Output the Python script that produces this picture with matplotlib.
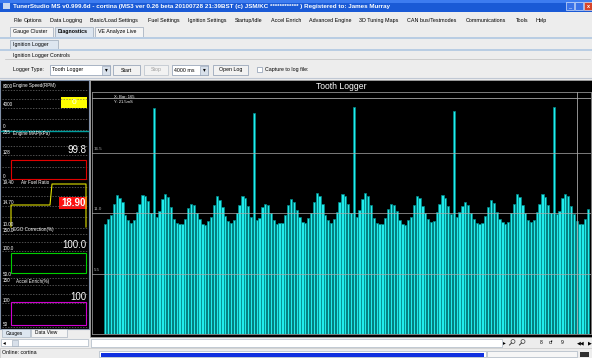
import numpy as np
import matplotlib.pyplot as plt
from matplotlib.patches import Rectangle, Circle

plt.rcParams['font.family'] = ['Liberation Sans', 'DejaVu Sans']

# tooth times in ms, one bar per tooth
tooth_ms = [10.0, 10.5, 10.85, 11.9, 12.7, 12.4, 12.0, 10.85, 10.4, 10.1,
            10.4, 11.1, 11.9, 12.7, 12.6, 12.1, 11.0, 20.6, 10.7, 11.2,
            12.3, 12.8, 12.5, 11.6, 10.5, 10.1, 10.0, 10.0, 10.5, 11.45,
            11.9, 11.75, 11.0, 10.5, 10.0, 9.9, 10.3, 10.7, 11.75, 12.55,
            12.25, 11.6, 10.8, 10.3, 10.1, 10.4, 11.0, 11.8, 12.6, 12.4,
            11.7, 10.7, 20.15, 10.4, 10.6, 11.6, 11.9, 11.75, 11.0, 10.4,
            10.0, 10.1, 10.1, 10.85, 11.75, 12.35, 12.05, 11.3, 10.7, 10.25,
            10.1, 10.6, 11.0, 12.05, 12.9, 12.55, 11.9, 10.85, 10.4, 10.1,
            10.5, 11.1, 12.05, 12.8, 12.6, 11.9, 11.0, 20.7, 10.7, 11.3,
            12.35, 12.9, 12.6, 11.8, 10.55, 10.1, 10.05, 10.05, 10.6, 11.4,
            11.9, 11.75, 11.2, 10.4, 10.05, 9.9, 10.4, 10.7, 11.8, 12.6,
            12.4, 11.7, 11.0, 10.5, 10.2, 10.3, 11.1, 11.9, 12.7, 12.4,
            11.7, 10.9, 20.3, 10.7, 11.1, 11.7, 12.0, 11.8, 11.0, 10.5,
            10.1, 10.0, 10.1, 10.8, 11.6, 12.25, 11.95, 11.1, 10.5, 10.2,
            10.05, 10.2, 11.0, 11.9, 12.8, 12.5, 11.8, 11.0, 10.4, 10.2,
            10.4, 11.1, 11.9, 12.8, 12.5, 11.8, 11.0, 20.7, 10.9, 11.2,
            12.4, 12.8, 12.6, 11.7, 10.9, 10.3, 10.05, 10.0, 10.5, 11.4]
grid_ms = [5.5, 11.0, 16.5]
grid_labels = ['5.5', '11.0', '16.5']
cursor_bar = 165
cursor_ms = 21.5

title = ('TunerStudio MS v0.999.6d - cortina (MS3 ver 0.26 beta 20100728 21:39BST '
         '(c) JSM/KC ************ ) Registered to: James Murray')
menu_items = ['File', 'Options', 'Data Logging', 'Basic/Load Settings', 'Fuel Settings',
              'Ignition Settings', 'Startup/Idle', 'Accel Enrich', 'Advanced Engine',
              '3D Tuning Maps', 'CAN bus/Testmodes', 'Communications', 'Tools', 'Help']
tabs = ['Gauge Cluster', 'Diagnostics', 'VE Analyze Live']

gauge_names = ['Engine Speed(RPM)', 'Engine MAP(kPa)', 'Air Fuel Ratio',
               'EGO Correction(%)', 'Accel Enrich(%)']
gauge_scale = [['8000', '4000', '0'], ['255', '128', '0'], ['19.40', '14.70', '10.00'],
               ['150.0', '100.0', '50.0'], ['150', '100', '50']]
gauge_value = ['0', '99.8', '18.90', '100.0', '100']

# layout (pixels of the 592x358 screenshot)
menu_x = [13, 24, 50, 90, 148, 188, 235, 271, 309, 359, 407, 466, 516, 536]
tab_x = [(10, 53), (55, 93), (95, 143)]
gauge_lab_y = [(86, 105, 127), (133, 152, 176), (183, 203, 225),
               (230, 248, 275), (281, 300, 324)]
gauge_name_x = [13, 13, 21, 13, 16]
gauge_col = ['#00a0a0', '#e00000', '#e0e000', '#00d000', '#d000d0']
bg = '#ededed'

fig = plt.figure(figsize=(5.92, 3.58), dpi=100)
fig.patch.set_facecolor(bg)
ui = fig.add_axes([0, 0, 1, 1])
ui.set_xlim(0, 592)
ui.set_ylim(358, 0)
ui.axis('off')


def box(x, y, w, h, fc='none', ec='none', lw=0.6, z=1):
    ui.add_patch(Rectangle((x, y), w, h, facecolor=fc, edgecolor=ec, lw=lw, zorder=z))


def txt(x, y, s, size=3.8, color='black', **kw):
    kw.setdefault('va', 'center')
    ui.text(x, y, s, fontsize=size, color=color, **kw)


def lens(x, y):
    ui.add_patch(Circle((x, y), 2, fill=False, ec='#404040', lw=0.5))
    ui.plot([x - 1.4, x - 3.5], [y + 1.4, y + 3.5], color='#404040', lw=0.7)


# title bar
box(0, 0, 592, 12, fc='#1a5ad6')
box(0, 0, 592, 3, fc='#3d7cf0')
box(3, 3, 7, 6, fc='#c8d8f0')
txt(13, 6.2, title, size=4.5, color='white', weight='bold')
box(566, 2, 8, 8, fc='#3a72e8', ec='white', lw=0.4)
box(575, 2, 8, 8, fc='#3a72e8', ec='white', lw=0.4)
box(584, 2, 8, 8, fc='#d8452a', ec='white', lw=0.4)
txt(570, 6.5, '_', size=4, color='white', ha='center')
txt(588, 6, 'x', size=4, color='white', ha='center', weight='bold')

# menu
for name, x in zip(menu_items, menu_x):
    txt(x, 20.5, name, size=3.9)

# top tabs
for (x0, x1), name in zip(tab_x, tabs):
    sel = name == 'Diagnostics'
    box(x0, 27, x1 - x0, 10, fc='#dde6f0' if sel else '#f4f4f4', ec='#9aa8b8', lw=0.5)
    txt(x0 + 3, 32, name, size=3.8, weight='bold' if sel else 'normal')
box(0, 36.5, 592, 2.5, fc='#b9cde3')
box(10, 40, 48, 9, fc='#dde6f0', ec='#9aa8b8', lw=0.5)
txt(13, 44.5, 'Ignition Logger', size=3.8)
box(0, 48.5, 592, 2, fc='#b9cde3')
txt(13, 55.5, 'Ignition Logger Controls', size=3.8)
ui.plot([5, 590], [59, 59], color='#c0c0c0', lw=0.5)

# controls row
txt(13, 70, 'Logger Type:', size=3.8)
box(50, 65, 60, 10, fc='white', ec='#8a9ab0', lw=0.5)
txt(52, 70, 'Tooth Logger', size=3.8)
box(102, 65.5, 8, 9, fc='#d8e0ea', ec='#8a9ab0', lw=0.4)
txt(106, 70, '\u25be', size=4, ha='center')
box(113, 65, 27, 10, fc='#f2f2f2', ec='#8a9ab0', lw=0.5)
txt(126.5, 70, 'Start', size=3.8, ha='center')
box(144, 65, 24, 10, fc='#f2f2f2', ec='#b8c0ca', lw=0.5)
txt(156, 70, 'Stop', size=3.8, ha='center', color='#a0a0a0')
box(172, 65, 36, 10, fc='white', ec='#8a9ab0', lw=0.5)
txt(174, 70, '4000 ms', size=3.8)
box(200, 65.5, 8, 9, fc='#d8e0ea', ec='#8a9ab0', lw=0.4)
txt(204, 70, '\u25be', size=4, ha='center')
box(213, 65, 35, 10, fc='#f2f2f2', ec='#8a9ab0', lw=0.5)
txt(230.5, 70, 'Open Log', size=3.8, ha='center')
box(257, 67, 5, 5, fc='white', ec='#8a9ab0', lw=0.5)
txt(265, 70, 'Capture to log file:', size=3.8)
ui.plot([0, 592], [78, 78], color='#c0c8d4', lw=0.8)

# left gauge panel
box(0, 80, 89, 249, fc='black', ec='#8090a8', lw=0.8)
for g, (yt, ym, yb) in enumerate(gauge_lab_y):
    top, mid, bot = gauge_scale[g]
    for yy in [yt + 4, (yt + ym) / 2 + 3, ym + 2.5, (ym + yb) / 2 + 3, yb + 2.5]:
        ui.plot([2, 87], [yy, yy], color='#707070', lw=0.5, ls=(0, (2, 2)))
    txt(2.5, yt, top, size=3.3, color='white')
    txt(gauge_name_x[g], yt, gauge_names[g], size=3.3, color='white')
    txt(2.5, ym, mid, size=3.3, color='white')
    txt(2.5, yb, bot, size=3.3, color='white')
    col = gauge_col[g]
    if g == 0:
        ui.plot([1, 88], [130.7, 130.7], color=col, lw=1.0)
        box(61, 97, 26, 11, fc='#ffff00')
        txt(74, 102.5, gauge_value[g], size=6, color='white', ha='center')
    elif g == 2:
        ui.plot([11, 11, 50, 52, 86, 86], [227, 205, 205, 184, 184, 227], color=col, lw=0.8)
        box(59, 197, 28, 12, fc='#ff1010')
        txt(86, 203, gauge_value[g], size=7, color='white', ha='right', weight='bold')
    elif g == 1:
        box(11, 160, 75, 19, ec=col, lw=0.8, z=3)
        txt(86, 150, gauge_value[g], size=7, color='white', ha='right')
    elif g == 3:
        box(11, 253, 75, 20, ec=col, lw=0.8, z=3)
        txt(86, 245, gauge_value[g], size=7, color='white', ha='right')
    else:
        box(11, 302, 75, 23, ec=col, lw=0.8, z=3)
        txt(86, 297, gauge_value[g], size=7, color='white', ha='right')

# gauges / data view tabs and status bar
box(2, 329, 28, 8, fc='#dde6f0', ec='#9aa8b8', lw=0.4)
txt(6, 333, 'Gauges', size=3.5)
box(31, 329, 36, 8, fc='#f4f4f4', ec='#9aa8b8', lw=0.4)
txt(35, 333, 'Data View', size=3.5)
box(1, 339, 87, 7, fc='white', ec='#9aa8b8', lw=0.4)
txt(3, 342.5, '\u25c2', size=4)
box(12, 339.5, 6, 6, fc='#d8e0ea', ec='#9aa8b8', lw=0.4)
box(91, 338.5, 411, 8, fc='white', ec='#9aa8b8', lw=0.4)
txt(503, 342.5, '\u25b8', size=4)
lens(513, 341.5)
lens(523, 341.5)
txt(540, 342.5, '8', size=3.6)
txt(549, 342.5, 'of', size=3.6)
txt(561, 342.5, '9', size=3.6)
txt(577, 342.5, '\u25c0\u25c0', size=3.6)
txt(588, 342.5, '\u25b6', size=3.6)
box(0, 348, 592, 10, fc=bg, ec='#c0c0c0', lw=0.4)
txt(2, 353, 'Online: cortina', size=3.8)
box(99, 351, 387, 6, fc='white', ec='#9aa8b8', lw=0.4)
box(101, 352.5, 383, 4, fc='#1030e0')
box(487, 351, 90, 6, fc='#f6f6f6', ec='#9aa8b8', lw=0.4)
box(580, 352, 9, 5, fc='#303030')

# tooth logger panel
box(89.5, 79.5, 502, 257.5, fc='black', ec='#a0a0a0', lw=0.6)
txt(341, 86.5, 'Tooth Logger', size=6.2, color='white', ha='center')

ax = fig.add_axes([92 / 592, (358 - 334) / 358, 499 / 592, (334 - 91.7) / 358])
ax.set_facecolor('black')
ax.bar(np.arange(len(tooth_ms)), tooth_ms, width=0.8, color='#22ecec',
       edgecolor='#008888', linewidth=0.5, zorder=2)
for v, lab in zip(grid_ms, grid_labels):
    ax.axhline(v, color='#a8a8a8', lw=0.6, alpha=0.85, zorder=3)
    ax.text(0.003, v + 0.2, lab, transform=ax.get_yaxis_transform(),
            fontsize=3.2, color='#b0b0b0', va='bottom')
ax.axhline(cursor_ms, color='#a8a8a8', lw=0.6, zorder=3)
ax.axvline(cursor_bar, color='#a8a8a8', lw=0.6, zorder=3)
ax.text(0.045, 0.985, 'X: Bar: %d' % cursor_bar, transform=ax.transAxes,
        fontsize=3, color='white', va='top')
ax.text(0.045, 0.965, 'Y: %.1fmS' % cursor_ms, transform=ax.transAxes,
        fontsize=3, color='white', va='top')
ax.set_xlim(-4.65, 170.0)
ax.set_ylim(0, 22.1)
ax.set_xticks([])
ax.set_yticks([])
for s in ax.spines.values():
    s.set_color('#909090')
    s.set_linewidth(0.6)

fig.savefig('out.png', dpi=100, facecolor=fig.get_facecolor())
